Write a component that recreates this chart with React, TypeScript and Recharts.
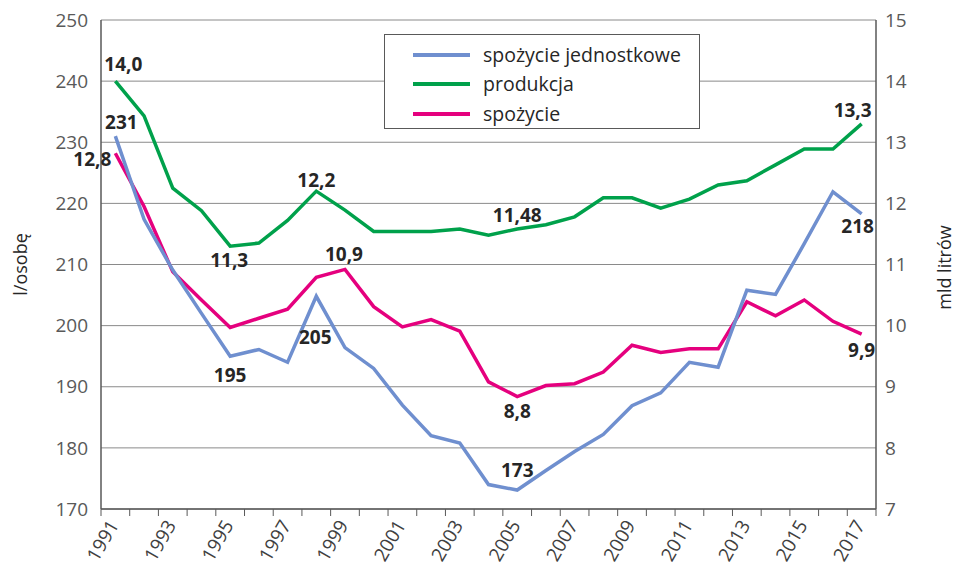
import React from 'react';
import { LineChart, Line, XAxis, YAxis, CartesianGrid, Legend } from 'recharts';

const years = [1991, 1992, 1993, 1994, 1995, 1996, 1997, 1998, 1999, 2000, 2001, 2002, 2003, 2004, 2005, 2006, 2007, 2008, 2009, 2010, 2011, 2012, 2013, 2014, 2015, 2016, 2017];
const spozycieJednostkowe = [231, 217.4, 209.1, 202, 195, 196.1, 194, 204.8, 196.4, 193, 187, 182, 180.8, 174, 173.1, 176.3, 179.4, 182.2, 186.9, 189, 194, 193.2, 205.8, 205.1, 213.4, 221.9, 218.3];
const produkcja = [14.0, 13.43, 12.25, 11.88, 11.3, 11.35, 11.72, 12.2, 11.89, 11.54, 11.54, 11.54, 11.58, 11.48, 11.58, 11.65, 11.78, 12.09, 12.09, 11.92, 12.07, 12.3, 12.37, 12.63, 12.89, 12.89, 13.3];
const spozycie = [12.82, 11.95, 10.88, 10.42, 9.97, 10.12, 10.27, 10.79, 10.92, 10.31, 9.98, 10.1, 9.91, 9.08, 8.84, 9.02, 9.05, 9.24, 9.68, 9.56, 9.62, 9.62, 10.39, 10.16, 10.42, 10.07, 9.86];

const leftTicks = [170, 180, 190, 200, 210, 220, 230, 240, 250];
const rightTicks = [7, 8, 9, 10, 11, 12, 13, 14, 15];
const xLabelYears = [1991, 1993, 1995, 1997, 1999, 2001, 2003, 2005, 2007, 2009, 2011, 2013, 2015, 2017];

const names = { sj: 'spożycie jednostkowe', pr: 'produkcja', sp: 'spożycie' };

const blueLabels: Record<number, string> = { 1991: '231', 1995: '195', 1998: '205', 2005: '173', 2017: '218' };
const greenLabels: Record<number, string> = { 1991: '14,0', 1995: '11,3', 1998: '12,2', 2005: '11,48', 2017: '13,3' };
const pinkLabels: Record<number, string> = { 1991: '12,8', 1999: '10,9', 2005: '8,8', 2017: '9,9' };

// label placement (style only)
const blueLabelPos: Record<number, [number, number, string]> = { 1991: [6, -7, 'middle'], 1995: [0, 26, 'middle'], 1998: [-1, 48, 'middle'], 2005: [0, -13, 'middle'], 2017: [-4, 19, 'middle'] };
const greenLabelPos: Record<number, [number, number, string]> = { 1991: [8, -10, 'middle'], 1995: [-1, 21, 'middle'], 1998: [0, -4, 'middle'], 2005: [0, -7, 'middle'], 2017: [-9, -7, 'middle'] };
const pinkLabelPos: Record<number, [number, number, string]> = { 1991: [-4, 13, 'end'], 1999: [-1, -8, 'middle'], 2005: [0, 21, 'middle'], 2017: [0, 23, 'middle'] };

const data = years.map((y, i) => ({ year: y, sj: spozycieJednostkowe[i], pr: produkcja[i], sp: spozycie[i] }));

const COLORS = { sj: '#6F8FCF', pr: '#00A14B', sp: '#E5007E' };
const FONT = '"Open Sans", "Noto Sans", Arial, sans-serif';

const boundaryTicks = [...years.map((y) => y - 0.5), years[years.length - 1] + 0.5];
const xTicks = [...boundaryTicks, ...xLabelYears].sort((a, b) => a - b);

const makeLabel = (texts: Record<number, string>, pos: Record<number, [number, number, string]>) => (props: any) => {
  const { x, y, index } = props;
  const yr = years[index];
  const t = texts[yr];
  if (!t || x == null || y == null) return null;
  const [dx, dy, anchor] = pos[yr];
  return (
    <text key={`l-${yr}-${t}`} x={x + dx} y={y + dy} textAnchor={anchor as any} fontFamily={FONT} fontWeight={700} fontSize={19} fill="#262626">
      {t}
    </text>
  );
};

const XTick = (props: any) => {
  const { x, y, payload } = props;
  const v = payload.value;
  if (!Number.isInteger(v)) {
    return <line x1={x} x2={x} y1={y} y2={y + 7} stroke="#595959" strokeWidth={1} />;
  }
  const tx = x + 4;
  const ty = y + 16;
  return (
    <text x={tx} y={ty} transform={`rotate(-60, ${tx}, ${ty})`} textAnchor="end" fontFamily={FONT} fontSize={19} fill="#404040">
      {v}
    </text>
  );
};

const legendItems: [keyof typeof COLORS, string][] = [['sj', names.sj], ['pr', names.pr], ['sp', names.sp]];

const LegendBox = () => (
  <div style={{ width: 316, height: 95, border: '1px solid #595959', boxSizing: 'border-box', background: '#fff', fontFamily: FONT, fontSize: 19.5, color: '#262626', paddingTop: 5 }}>
    {legendItems.map(([k, n]) => (
      <div key={k} style={{ display: 'flex', alignItems: 'center', height: 29.5 }}>
        <div style={{ width: 57, height: 4, background: COLORS[k], marginLeft: 28, marginRight: 13 }} />
        <span style={{ lineHeight: '20px' }}>{n}</span>
      </div>
    ))}
  </div>
);

export default function App() {
  return (
    <div style={{ position: 'absolute', left: 0, top: 0, width: 956, height: 574, background: '#fff' }}>
      <LineChart width={956} height={574} data={data} margin={{ top: 20, right: 0, left: 0, bottom: 0 }}>
        <CartesianGrid vertical={false} stroke="#8a8a8a" strokeWidth={1} yAxisId="left" />
        <XAxis
          dataKey="year"
          type="number"
          domain={[1990.5, 2017.5]}
          ticks={xTicks}
          interval={0}
          allowDataOverflow
          height={65}
          tickSize={0}
          tickMargin={0}
          tickLine={false}
          axisLine={{ stroke: '#595959', strokeWidth: 1.5 }}
          tick={<XTick />}
        />
        <YAxis
          yAxisId="left"
          domain={[170, 250]}
          ticks={leftTicks}
          interval={0}
          width={101}
          tickSize={0}
          tickMargin={13}
          tickLine={false}
          axisLine={{ stroke: '#595959', strokeWidth: 1.5 }}
          tick={{ fontFamily: FONT, fontSize: 19, fill: '#595959' }}
          label={{
            content: (p: any) => {
              const vb = p.viewBox;
              const cx = 27;
              const cy = vb.y + vb.height / 2;
              return (
                <text x={cx} y={cy} transform={`rotate(-90, ${cx}, ${cy})`} textAnchor="middle" fontFamily={FONT} fontSize={18} fill="#262626">
                  l/osobę
                </text>
              );
            },
          }}
        />
        <YAxis
          yAxisId="right"
          orientation="right"
          domain={[7, 15]}
          ticks={rightTicks}
          interval={0}
          width={80}
          tickSize={0}
          tickMargin={9}
          tickLine={false}
          axisLine={{ stroke: '#595959', strokeWidth: 1.5 }}
          tick={{ fontFamily: FONT, fontSize: 19, fill: '#595959', textAnchor: 'start' }}
          label={{
            content: (p: any) => {
              const vb = p.viewBox;
              const cx = 951;
              const cy = vb.y + vb.height / 2 + 3;
              return (
                <text x={cx} y={cy} transform={`rotate(-90, ${cx}, ${cy})`} textAnchor="middle" fontFamily={FONT} fontSize={18} fill="#262626">
                  mld litrów
                </text>
              );
            },
          }}
        />
        <Line yAxisId="right" type="linear" dataKey="sp" name={names.sp} stroke={COLORS.sp} strokeWidth={3.5} dot={false} isAnimationActive={false} label={makeLabel(pinkLabels, pinkLabelPos)} />
        <Line yAxisId="right" type="linear" dataKey="pr" name={names.pr} stroke={COLORS.pr} strokeWidth={3.5} dot={false} isAnimationActive={false} label={makeLabel(greenLabels, greenLabelPos)} />
        <Line yAxisId="left" type="linear" dataKey="sj" name={names.sj} stroke={COLORS.sj} strokeWidth={3.5} dot={false} isAnimationActive={false} label={makeLabel(blueLabels, blueLabelPos)} />
        <Legend layout="vertical" align="center" verticalAlign="middle" wrapperStyle={{ left: 384, top: 34, width: 316, height: 95 }} content={() => <LegendBox />} />
      </LineChart>
    </div>
  );
}
